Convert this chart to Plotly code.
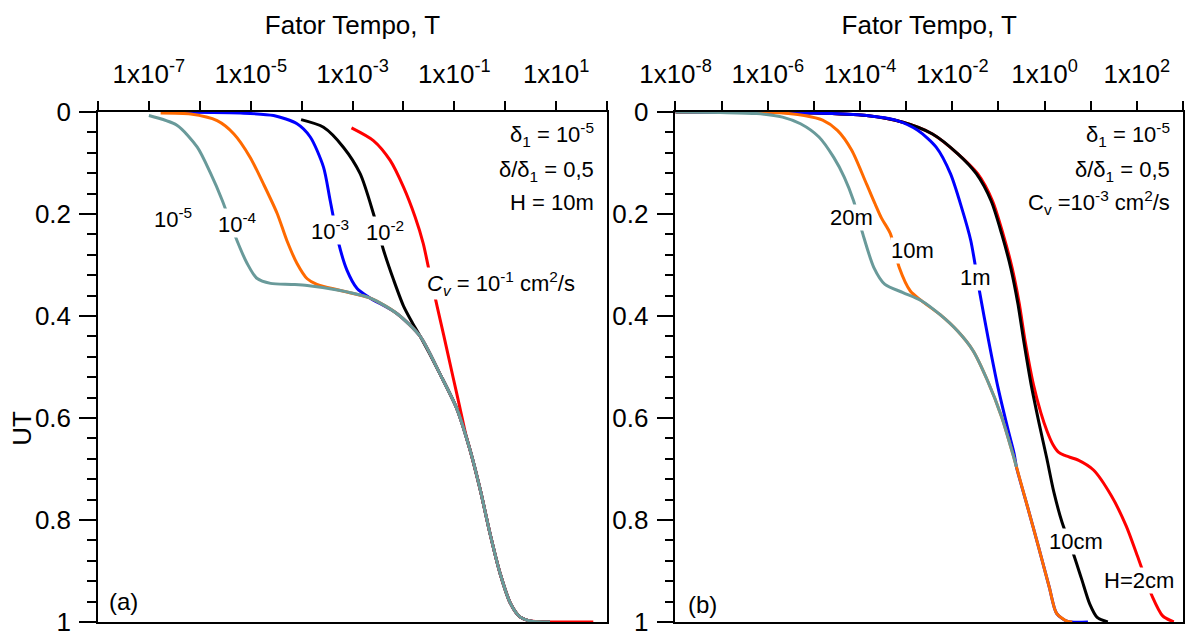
import plotly.graph_objects as go

FONT = "Arial, Liberation Sans, Helvetica, sans-serif"

# ---------------- Panel (a): H = 10m, varying Cv ----------------
# common tail (all curves merge into this one), log10(T) and UT
a_tail_logT = [-3.89, -3.24, -2.65, -2.13, -1.67, -1.28, -0.95, -0.69, -0.49, -0.30, -0.10, 0.10, 0.29, 0.49, 0.88]
a_tail_UT = [0.340, 0.350, 0.365, 0.395, 0.440, 0.514, 0.582, 0.663, 0.741, 0.826, 0.905, 0.963, 0.990, 0.998, 1.0]

a_cv5_logT = [-7.00, -6.45, -6.05, -5.79, -5.56, -5.27, -5.07, -4.88, -4.61, -4.20]
a_cv5_UT = [0.007, 0.026, 0.069, 0.120, 0.173, 0.252, 0.297, 0.326, 0.336, 0.338]

a_cv4_logT = [-6.77, -6.18, -5.66, -5.33, -5.01, -4.75, -4.48, -4.29, -4.09, -3.89, -3.70]
a_cv4_UT = [0.002, 0.004, 0.017, 0.043, 0.089, 0.141, 0.199, 0.252, 0.297, 0.327, 0.338]

a_cv3_logT = [-6.75, -5.20, -4.55, -4.09, -3.83, -3.57, -3.44, -3.27, -3.11, -2.91]
a_cv3_UT = [0.000, 0.002, 0.007, 0.023, 0.049, 0.108, 0.173, 0.258, 0.310, 0.346]

a_cv2_logT = [-4.01, -3.57, -3.18, -2.85, -2.59, -2.39, -2.19, -2.00, -1.82]
a_cv2_UT = [0.015, 0.030, 0.069, 0.121, 0.199, 0.271, 0.330, 0.380, 0.414]

a_cv1_logT = [-3.02, -2.59, -2.26, -2.00, -1.77, -1.61, -1.51, -1.34, -1.21, -1.02, -0.89, -0.78]
a_cv1_UT = [0.031, 0.056, 0.095, 0.147, 0.206, 0.258, 0.304, 0.380, 0.437, 0.522, 0.580, 0.630]
a_cv1_end_logT = [1.73]
a_cv1_end_UT = [1.0]

# ---------------- Panel (b): Cv = 1e-3, varying H ----------------
b_20m_logT = [-8.0, -7.03, -6.24, -5.68, -5.29, -4.89, -4.57, -4.34, -4.14, -3.94, -3.70, -3.46, -3.07, -2.67,
              -2.27, -1.88, -1.55, -1.24, -0.93, -0.69, -0.61]
b_20m_UT = [0.0, 0.001, 0.003, 0.010, 0.023, 0.049, 0.089, 0.128, 0.174, 0.239, 0.305, 0.338, 0.354, 0.370,
            0.397, 0.430, 0.468, 0.526, 0.598, 0.670, 0.696]

b_10m_logT = [-8.0, -5.84, -5.21, -4.81, -4.49, -4.18, -3.86, -3.54, -3.34, -3.15, -2.91, -2.67,
              -2.27, -1.88, -1.55, -1.24, -0.93, -0.69, -0.61, -0.37, -0.13, 0.10, 0.26, 0.50, 0.60]
b_10m_UT = [0.0, 0.001, 0.007, 0.016, 0.036, 0.075, 0.141, 0.207, 0.239, 0.305, 0.351, 0.370,
            0.397, 0.430, 0.468, 0.526, 0.598, 0.670, 0.696, 0.774, 0.853, 0.931, 0.983, 0.999, 1.0]

b_1m_logT = [-8.0, -5.45, -4.65, -3.86, -3.23, -2.75, -2.35, -2.04, -1.80, -1.60, -1.40, -1.22, -1.01, -0.80,
             -0.66, -0.61, -0.37, -0.13, 0.10, 0.26, 0.50, 0.94]
b_1m_UT = [0.0, 0.001, 0.003, 0.007, 0.016, 0.036, 0.069, 0.121, 0.187, 0.252, 0.357, 0.445, 0.540, 0.620,
           0.670, 0.696, 0.774, 0.853, 0.931, 0.983, 0.999, 1.0]

b_10cm_logT = [-8.0, -5.0, -3.86, -3.07, -2.43, -1.88, -1.48, -1.16, -0.93, -0.73, -0.58, -0.45, -0.29, -0.12,
               0.05, 0.20, 0.38, 0.60, 0.80, 0.98, 1.14, 1.37]
b_10cm_UT = [0.0, 0.002, 0.007, 0.020, 0.043, 0.082, 0.121, 0.174, 0.239, 0.307, 0.375, 0.450, 0.535, 0.610,
             0.680, 0.745, 0.805, 0.860, 0.915, 0.965, 0.991, 1.0]

b_2cm_logT = [-8.0, -5.0, -3.86, -3.07, -2.43, -1.88, -1.45, -1.13, -0.90, -0.70, -0.55, -0.42, -0.24, -0.08,
              0.05, 0.18, 0.30, 0.42, 0.74, 1.06, 1.45, 1.77, 2.01, 2.33, 2.56, 2.80]
b_2cm_UT = [0.0, 0.002, 0.007, 0.020, 0.043, 0.082, 0.121, 0.174, 0.239, 0.307, 0.375, 0.450, 0.535, 0.590,
            0.625, 0.652, 0.667, 0.673, 0.683, 0.702, 0.753, 0.812, 0.870, 0.949, 0.988, 1.0]

# tick labels
a_tick_exp = [-8, -7, -6, -5, -4, -3, -2, -1, 0, 1, 2]
a_tick_text = ["", "1x10<sup>-7</sup>", "", "1x10<sup>-5</sup>", "", "1x10<sup>-3</sup>", "",
               "1x10<sup>-1</sup>", "", "1x10<sup>1</sup>", ""]
b_tick_exp = [-8, -7, -6, -5, -4, -3, -2, -1, 0, 1, 2, 3]
b_tick_text = ["1x10<sup>-8</sup>", "", "1x10<sup>-6</sup>", "", "1x10<sup>-4</sup>", "", "1x10<sup>-2</sup>",
               "", "1x10<sup>0</sup>", "", "1x10<sup>2</sup>", ""]
ut_tick_vals = [0, 0.2, 0.4, 0.6, 0.8, 1.0]
ut_tick_text = ["0", "0.2", "0.4", "0.6", "0.8", "1"]

RED = "#FF0000"
BLACK = "#000000"
BLUE = "#0000FF"
ORANGE = "#FF6A00"
GRAY = "#699A9A"

fig = go.Figure()


def add(xlog, ut, color, xa, ya, name):
    fig.add_trace(go.Scatter(
        x=[10 ** v for v in xlog], y=ut, mode="lines", name=name,
        line=dict(color=color, width=3, shape="spline", smoothing=0.75),
        xaxis=xa, yaxis=ya, showlegend=False, hoverinfo="skip"))


# panel (a) - draw order: red, black, blue, orange, gray
add(a_cv1_logT + a_tail_logT[7:] + a_cv1_end_logT, a_cv1_UT + a_tail_UT[7:] + a_cv1_end_UT, RED, "x", "y", "Cv=1e-1")
add(a_cv2_logT + a_tail_logT[4:], a_cv2_UT + a_tail_UT[4:], BLACK, "x", "y", "Cv=1e-2")
add(a_cv3_logT + a_tail_logT[2:], a_cv3_UT + a_tail_UT[2:], BLUE, "x", "y", "Cv=1e-3")
add(a_cv4_logT + a_tail_logT[1:], a_cv4_UT + a_tail_UT[1:], ORANGE, "x", "y", "Cv=1e-4")
add(a_cv5_logT + a_tail_logT, a_cv5_UT + a_tail_UT, GRAY, "x", "y", "Cv=1e-5")

# panel (b)
add(b_2cm_logT, b_2cm_UT, RED, "x2", "y2", "H=2cm")
add(b_10cm_logT, b_10cm_UT, BLACK, "x2", "y2", "H=10cm")
add(b_1m_logT, b_1m_UT, BLUE, "x2", "y2", "H=1m")
add(b_10m_logT, b_10m_UT, ORANGE, "x2", "y2", "H=10m")
add(b_20m_logT, b_20m_UT, GRAY, "x2", "y2", "H=20m")

axis_common = dict(
    type="log", side="top", ticks="outside", ticklen=9, tickwidth=1.5, tickcolor="black",
    showline=True, linecolor="black", linewidth=1.5, mirror=True, showgrid=False, zeroline=False,
    tickfont=dict(family=FONT, size=26, color="black"), ticklabelstandoff=8,
    title=dict(text="Fator Tempo, T", font=dict(family=FONT, size=26, color="black"), standoff=14),
)
yaxis_common = dict(
    range=[1, 0], tickvals=ut_tick_vals, ticktext=ut_tick_text, ticklabeloverflow="allow",
    ticks="outside", ticklen=17, tickwidth=1.5, tickcolor="black",
    minor=dict(ticks="outside", ticklen=9, dtick=0.04, tick0=0, tickwidth=1.5, tickcolor="black", showgrid=False),
    showline=True, linecolor="black", linewidth=1.5, mirror=True, showgrid=False, zeroline=False,
    tickfont=dict(family=FONT, size=26, color="black"), ticklabelstandoff=3,
)

W, H = 1186, 631
L, R, T, B = 97.5, 2.5, 111.5, 9
pw = W - L - R

fig.update_layout(
    width=W, height=H, plot_bgcolor="white", paper_bgcolor="white",
    margin=dict(l=L, r=R, t=T, b=B, autoexpand=False),
    font=dict(family=FONT, color="black"),
    xaxis=dict(axis_common, domain=[0, (607 - L) / pw], range=[-8, 2], anchor="y",
               tickvals=[10 ** e for e in a_tick_exp], ticktext=a_tick_text),
    yaxis=dict(yaxis_common, domain=[0, 1], anchor="x"),
    xaxis2=dict(axis_common, domain=[(675.5 - L) / pw, 1], range=[-8, 3], anchor="y2",
                tickvals=[10 ** e for e in b_tick_exp], ticktext=b_tick_text),
    yaxis2=dict(yaxis_common, domain=[0, 1], anchor="x2"),
)

ann = []


def lab(text, x, y, xref, yref, size=22, xanchor="center", bg="white"):
    ann.append(dict(text=text, x=x, y=y, xref=xref, yref=yref, showarrow=False, xanchor=xanchor,
                    yanchor="middle", font=dict(family=FONT, size=size, color="black"),
                    bgcolor=bg, borderpad=0))


# panel (a) labels
lab("10<sup>-5</sup>", -6.52, 0.207, "x", "y")
lab("10<sup>-4</sup>", -5.26, 0.217, "x", "y")
lab("10<sup>-3</sup>", -3.44, 0.232, "x", "y")
lab("10<sup>-2</sup>", -2.36, 0.234, "x", "y")
lab("<i>C<sub>v</sub></i> = 10<sup>-1</sup> cm<sup>2</sup>/s", -1.55, 0.336, "x", "y", xanchor="left")
lab("δ<sub>1</sub> = 10<sup>-5</sup>", 1.77, 0.045, "x", "y", xanchor="right", bg=None)
lab("δ/δ<sub>1</sub> = 0,5", 1.77, 0.115, "x", "y", xanchor="right", bg=None)
lab("H = 10m", 1.77, 0.178, "x", "y", xanchor="right", bg=None)
lab("(a)", -7.50, 0.959, "x", "y", size=24, bg=None)

# panel (b) labels
lab("20m", -4.18, 0.207, "x2", "y2")
lab("10m", -2.86, 0.271, "x2", "y2")
lab("1m", -1.49, 0.324, "x2", "y2")
lab("10cm", 0.69, 0.843, "x2", "y2")
lab("H=2cm", 2.04, 0.918, "x2", "y2")
lab("δ<sub>1</sub> = 10<sup>-5</sup>", 2.73, 0.045, "x2", "y2", xanchor="right", bg=None)
lab("δ/δ<sub>1</sub> = 0,5", 2.73, 0.115, "x2", "y2", xanchor="right", bg=None)
lab("C<sub>v</sub> =10<sup>-3</sup> cm<sup>2</sup>/s", 2.73, 0.178, "x2", "y2", xanchor="right", bg=None)
lab("(b)", -7.41, 0.965, "x2", "y2", size=24, bg=None)

# y axis title (absolute pixel position converted to paper coordinates)
ann.append(dict(text="UT", x=(22 - L) / pw, y=1 - (428 - T) / (H - T - B), xref="paper", yref="paper",
                showarrow=False, textangle=-90, font=dict(family=FONT, size=26, color="black"),
                xanchor="center", yanchor="middle"))
fig.update_layout(annotations=ann)

fig.write_html("out.html")
